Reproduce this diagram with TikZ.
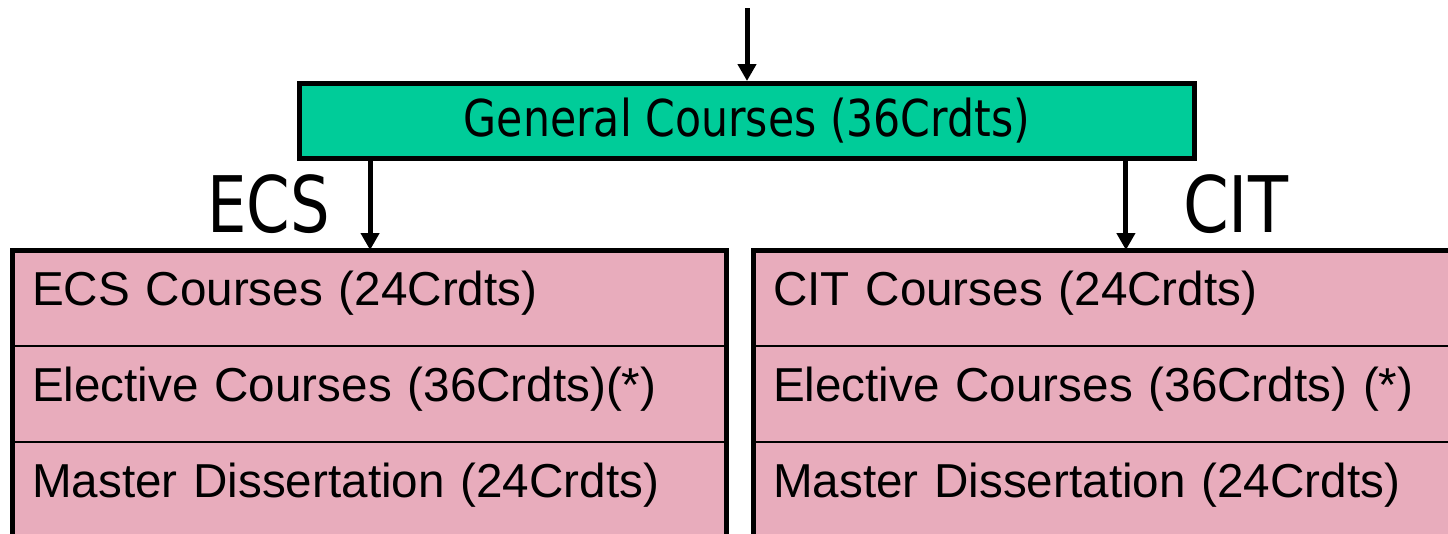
\documentclass[tikz,border=0pt]{standalone}
\usepackage{fontspec}
\setmainfont{Liberation Sans}
\newfontfamily\headfont{DejaVu Sans}[FakeStretch=0.84]
\usetikzlibrary{arrows.meta}
\definecolor{coregreen}{RGB}{0,204,153}
\definecolor{trackpink}{RGB}{232,172,188}
\tikzset{
	flow/.style={line width=0.1cm, -{Triangle[width=0.36cm,length=0.34cm]}},
	general/.style={draw, line width=0.1cm, fill=coregreen, minimum width=17.9cm, minimum height=1.5cm, text height=0.88cm, text depth=0.26cm, font=\headfont\fontsize{28.9}{32}\selectfont},
	course/.style={draw, line width=0.05cm, outer sep=0pt, fill=trackpink, minimum width=14.3cm, minimum height=1.92cm, text width=13.5cm, inner xsep=0.4cm, align=left, text height=0.75cm, text depth=0.45cm, font=\fontsize{27.1}{30}\selectfont},
	track/.style={anchor=base west, font=\headfont\fontsize{44.4}{48}\selectfont},
}
\begin{document}
\begin{tikzpicture}[x=0.02cm, y=-0.02cm]
	\useasboundingbox (0,0) rectangle (1448,534);
	\node[general] (general) at (747,121) {General Courses (36Crdts)};
	\node[course] (ecs1) at (369.5,298) {ECS Courses (24Crdts)};
	\node[course] (ecs2) at (369.5,394) {Elective Courses (36Crdts)(*)};
	\node[course] (ecs3) at (369.5,490) {Master Dissertation (24Crdts)};
	\node[course] (cit1) at (1110.5,298) {CIT Courses (24Crdts)};
	\node[course] (cit2) at (1110.5,394) {Elective Courses (36Crdts) (*)};
	\node[course] (cit3) at (1110.5,490) {Master Dissertation (24Crdts)};
	\draw[line width=0.1cm] (ecs1.north west) rectangle (ecs3.south east);
	\draw[line width=0.1cm] (cit1.north west) rectangle (cit3.south east);
	\node[track] (ecslabel) at (201,232) {\addfontfeature{FakeStretch=0.8}ECS};
	\node[track] (citlabel) at (1177,232) {CIT};
	\coordinate (entry) at (747,8);
	\draw[flow] (entry) -- (entry |- general.north);
	\draw[flow] ([xshift=1.46cm]general.south west) -- ([xshift=1.46cm]general.south west |- ecs1.north);
	\draw[flow] ([xshift=-1.42cm]general.south east) -- ([xshift=-1.42cm]general.south east |- cit1.north);
\end{tikzpicture}
\end{document}
